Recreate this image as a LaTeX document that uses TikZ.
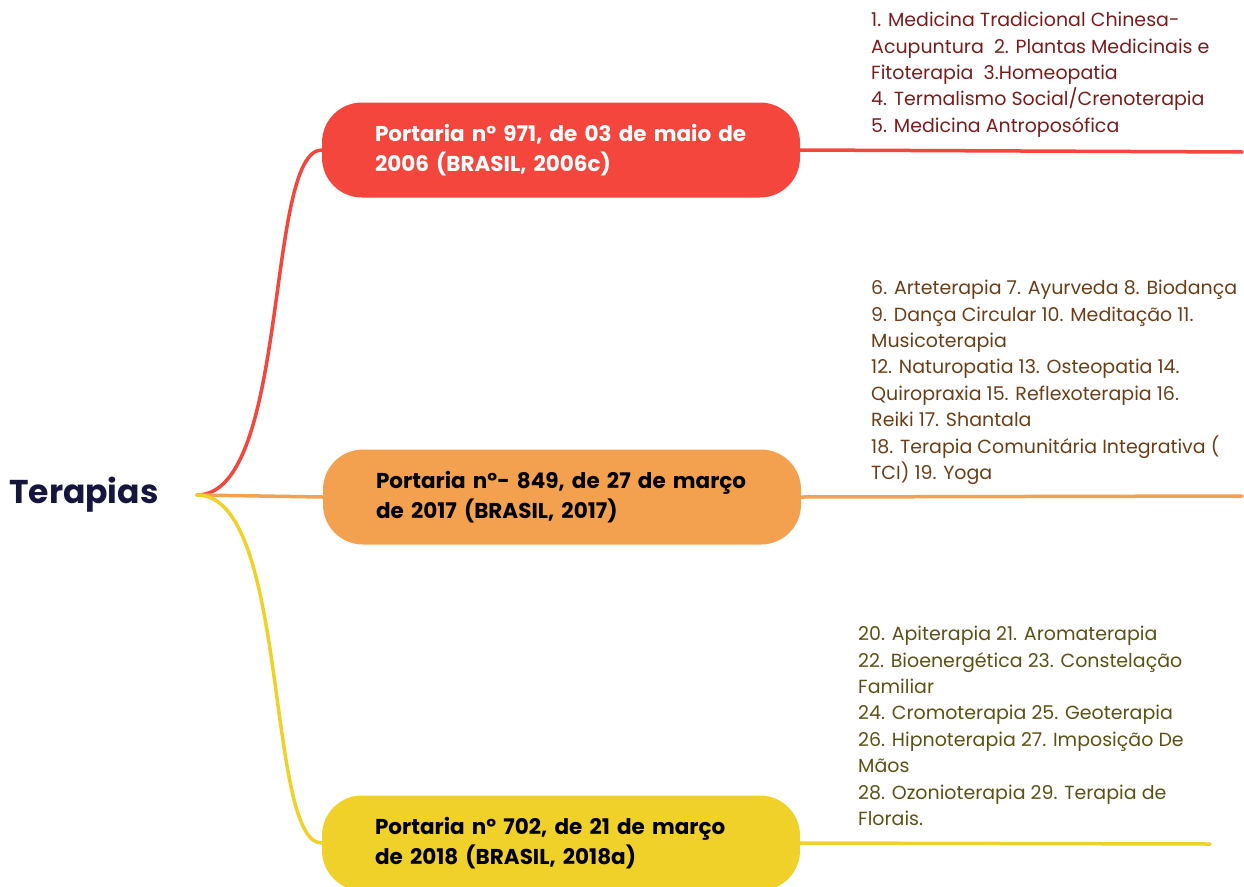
\documentclass[tikz,border=0pt]{standalone}
\usepackage{fontspec}
\setmainfont{Poppins}
\definecolor{cred}{HTML}{F5463D}
\definecolor{corange}{HTML}{F3A14F}
\definecolor{cyellow}{HTML}{F0D12A}
\definecolor{tred}{HTML}{7A1C1C}
\definecolor{torange}{HTML}{6B3E17}
\definecolor{tyellow}{HTML}{5A5214}
\definecolor{troot}{HTML}{15153D}
\begin{document}
\begin{tikzpicture}[x=1pt,y=-1pt,
  box/.style={rounded corners=40pt, minimum width=478pt, minimum height=95pt, inner sep=0pt,
    text width=372pt, font=\fontsize{21.5}{30}\selectfont\bfseries, align=left},
  leaf/.style={anchor=north west, inner sep=0pt, align=left, font=\fontsize{19}{26.4}\selectfont},
  branch/.style={line width=3.5pt, line cap=round}]
\useasboundingbox (0,0) rectangle (1244,886);
\node[font=\fontsize{33}{36}\selectfont\bfseries, text=troot, anchor=west, inner sep=0pt] (root) at (9,495) {Terapias};
\coordinate (j) at (197,495);
\node[box, fill=cred, text=white] (b1) at (561,150) {Portaria nº 971, de 03 de maio de\\2006 (BRASIL, 2006c)};
\node[box, fill=corange, text=black] (b2) at (562,497) {Portaria nº- 849, de 27 de março\\de 2017 (BRASIL, 2017)};
\node[box, fill=cyellow, text=black] (b3) at (561,843) {Portaria nº 702, de 21 de março\\de 2018 (BRASIL, 2018a)};
\coordinate (e1) at (1242,152);
\coordinate (e2) at (1242,496);
\coordinate (e3) at (1210,844);
\draw[branch, cred] (j) .. controls (290,495) and (265,150) .. (b1.west);
\draw[branch, corange] (j) -- (b2.west);
\draw[branch, cyellow] (j) .. controls (290,495) and (265,843) .. (b3.west);
\draw[branch, cred] (b1.east) -- (e1);
\draw[branch, corange] (b2.east) -- (e2);
\draw[branch, cyellow] (b3.east) -- (e3);
\node[leaf, text=tred] (t1) at (871,12) {1. Medicina Tradicional Chinesa-\\Acupuntura\ \ 2. Plantas Medicinais e\\Fitoterapia\ \ 3.Homeopatia\\4. Termalismo Social/Crenoterapia\\5. Medicina Antroposófica};
\node[leaf, text=torange] (t2) at (871,280) {6. Arteterapia 7. Ayurveda 8. Biodança\\9. Dança Circular 10. Meditação 11.\\Musicoterapia\\12. Naturopatia 13. Osteopatia 14.\\Quiropraxia 15. Reflexoterapia 16.\\Reiki 17. Shantala\\18. Terapia Comunitária Integrativa (\\TCI) 19. Yoga};
\node[leaf, text=tyellow] (t3) at (858,626) {20. Apiterapia 21. Aromaterapia\\22. Bioenergética 23. Constelação\\Familiar\\24. Cromoterapia 25. Geoterapia\\26. Hipnoterapia 27. Imposição De\\Mãos\\28. Ozonioterapia 29. Terapia de\\Florais.};
\end{tikzpicture}
\end{document}
